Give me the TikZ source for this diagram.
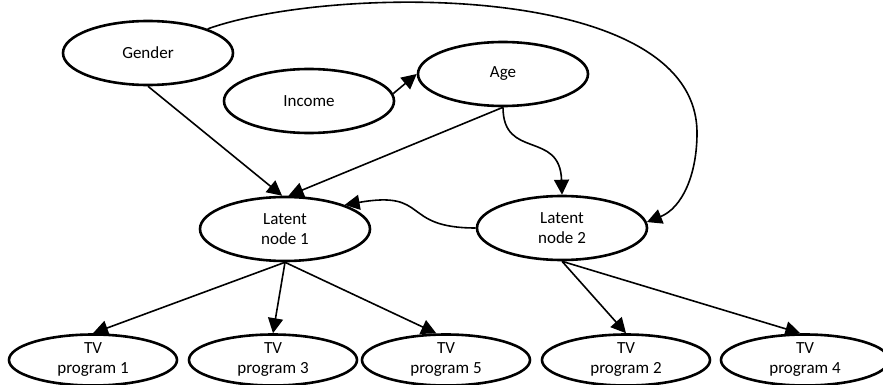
\documentclass[tikz,border=0pt]{standalone}
\usepackage{fontspec}
\setmainfont{Carlito}
\usetikzlibrary{shapes.geometric,arrows.meta}

\tikzset{
  var/.style={ellipse, draw, line width=2.6pt, minimum width=170pt,
    minimum height=64pt, inner sep=0pt, align=center,
    font=\fontsize{17}{20}\selectfont},
  tvvar/.style={var, minimum width=168pt, minimum height=51pt},
  link/.style={line width=1.6pt, -{Triangle[length=15pt,width=15pt]}}
}

\begin{document}
\begin{tikzpicture}[x=1pt, y=-1pt]
  \useasboundingbox (0,0) rectangle (883,385);

  % observed variables
  \node[var] (gender) at (148,53) {Gender};
  \node[var] (income) at (309,101) {Income};
  \node[var] (age)    at (503,74)  {Age};

  % latent nodes
  \node[var] (lat1) at (285,229) {Latent\\node 1};
  \node[var] (lat2) at (562,228) {Latent\\node 2};

  % TV programmes
  \node[tvvar] (tv1) at (93,360)  {TV\\program 1};
  \node[tvvar] (tv3) at (273,360) {TV\\program 3};
  \node[tvvar] (tv5) at (446,360) {TV\\program 5};
  \node[tvvar] (tv2) at (626,360) {TV\\program 2};
  \node[tvvar] (tv4) at (805,360) {TV\\program 4};

  % edges into the latent nodes
  \draw[link] (gender.south) -- (lat1.95);
  \draw[link] (age.south) -- (lat1.84);
  \draw[link] (income.5) -- (age.west);
  \draw[link] (age.south) .. controls (503,160) and (560,130) .. (lat2.north);
  \draw[link] (lat2.west) .. controls (400,228) and (430,190) .. (lat1.22);
  \draw[link] (gender.22) .. controls (330,-15) and (697,-20) .. (697,133)
                          .. controls (697,175) and (682,208) .. (lat2.4);

  % edges to the programmes
  \draw[link] (lat1.south) -- (tv1.north);
  \draw[link] (lat1.south) -- (tv3.north);
  \draw[link] (lat1.south) -- (tv5.110);
  \draw[link] (lat2.south) -- (tv2.north);
  \draw[link] (lat2.south) -- (tv4.100);
\end{tikzpicture}
\end{document}
